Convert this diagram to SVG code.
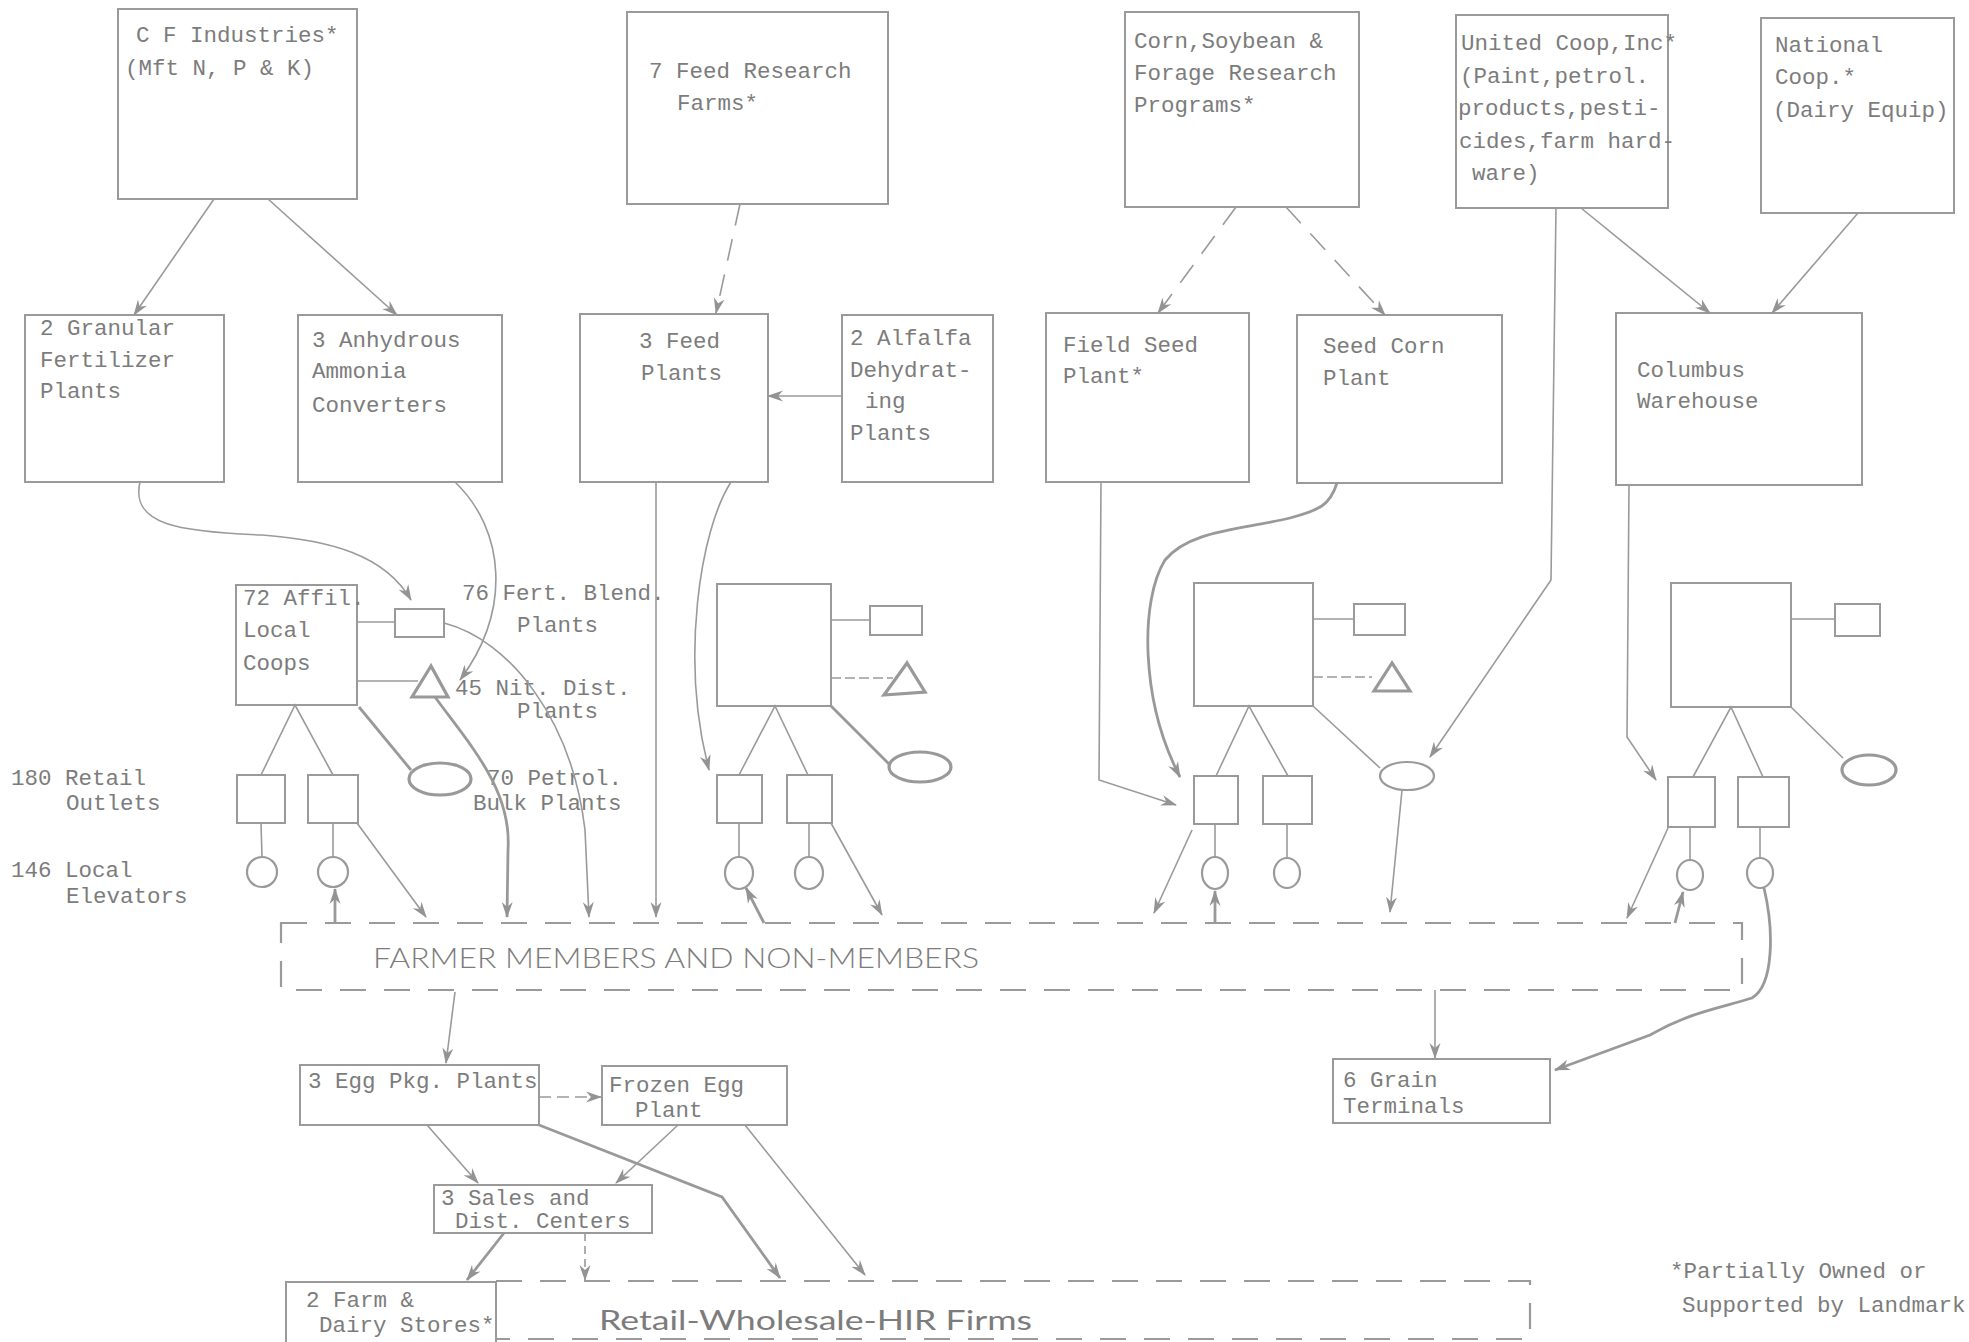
<svg xmlns="http://www.w3.org/2000/svg" width="1969" height="1342" viewBox="0 0 1969 1342">
<defs>
<style>
.bx{fill:none;stroke:#9a9a9a;stroke-width:2}
.ln{fill:none;stroke:#9a9a9a;stroke-width:1.6}
.tk{fill:none;stroke:#999;stroke-width:2.8}
.ds{fill:none;stroke:#9a9a9a;stroke-width:1.6;stroke-dasharray:22 14}
.bd{fill:none;stroke:#9a9a9a;stroke-width:2.2;stroke-dasharray:26 18}
.t{font-family:"Liberation Mono",monospace;font-size:22.5px;fill:#7c7c7c}
.big{font-family:Lato,"Liberation Sans",sans-serif;font-weight:300;font-size:27px;fill:#7c7c7c}
.sh{fill:none;stroke:#9a9a9a;stroke-width:2.2}
.sht{fill:none;stroke:#999;stroke-width:3.2}
</style>
<marker id="a" viewBox="0 0 16 12" refX="15" refY="6" markerWidth="16" markerHeight="12" orient="auto" markerUnits="userSpaceOnUse">
<path d="M0,0.5 L16,6 L0,11.5 L5,6 Z" fill="#939393"/>
</marker>
</defs>
<rect width="1969" height="1342" fill="#fff"/>

<g id="cf-industries"><rect class="bx" x="118" y="9" width="239" height="190"/>
<text class="t" x="136" y="42">C F Industries*</text><text class="t" x="125" y="75">(Mft N, P &amp; K)</text></g>
<g id="feed-research"><rect class="bx" x="627" y="12" width="261" height="192"/>
<text class="t" x="649" y="78">7 Feed Research</text><text class="t" x="677" y="110">Farms*</text></g>
<g id="corn-soybean"><rect class="bx" x="1125" y="12" width="234" height="195"/>
<text class="t" x="1134" y="48">Corn,Soybean &amp;</text><text class="t" x="1134" y="80">Forage Research</text><text class="t" x="1134" y="112">Programs*</text></g>
<g id="united-coop"><rect class="bx" x="1456" y="15" width="212" height="193"/>
<text class="t" x="1461" y="50">United Coop,Inc*</text><text class="t" x="1460" y="83">(Paint,petrol.</text><text class="t" x="1458" y="115">products,pesti-</text><text class="t" x="1459" y="148">cides,farm hard-</text><text class="t" x="1472" y="180">ware)</text></g>
<g id="national-coop"><rect class="bx" x="1761" y="18" width="193" height="195"/>
<text class="t" x="1775" y="52">National</text><text class="t" x="1775" y="84">Coop.*</text><text class="t" x="1773" y="117">(Dairy Equip)</text></g>

<g id="granular"><rect class="bx" x="25" y="315" width="199" height="167"/>
<text class="t" x="40" y="335">2 Granular</text><text class="t" x="40" y="367">Fertilizer</text><text class="t" x="40" y="398">Plants</text></g>
<g id="anhydrous"><rect class="bx" x="298" y="315" width="204" height="167"/>
<text class="t" x="312" y="347">3 Anhydrous</text><text class="t" x="312" y="378">Ammonia</text><text class="t" x="312" y="412">Converters</text></g>
<g id="feed-plants"><rect class="bx" x="580" y="314" width="188" height="168"/>
<text class="t" x="639" y="348">3 Feed</text><text class="t" x="641" y="380">Plants</text></g>
<g id="alfalfa"><rect class="bx" x="842" y="315" width="151" height="167"/>
<text class="t" x="850" y="345">2 Alfalfa</text><text class="t" x="850" y="377">Dehydrat-</text><text class="t" x="865" y="408">ing</text><text class="t" x="850" y="440">Plants</text></g>
<g id="field-seed"><rect class="bx" x="1046" y="313" width="203" height="169"/>
<text class="t" x="1063" y="352">Field Seed</text><text class="t" x="1063" y="383">Plant*</text></g>
<g id="seed-corn"><rect class="bx" x="1297" y="315" width="205" height="168"/>
<text class="t" x="1323" y="353">Seed Corn</text><text class="t" x="1323" y="385">Plant</text></g>
<g id="columbus"><rect class="bx" x="1616" y="313" width="246" height="172"/>
<text class="t" x="1637" y="377">Columbus</text><text class="t" x="1637" y="408">Warehouse</text></g>

<g id="local-coops-1"><rect class="bx" x="236" y="585" width="121" height="120"/>
<text class="t" x="243" y="605">72 Affil.</text><text class="t" x="243" y="637">Local</text><text class="t" x="243" y="670">Coops</text>
<line class="ln" x1="357" y1="622" x2="395" y2="622"/><rect class="bx" x="395" y="609" width="49" height="28"/>
<line class="ln" x1="357" y1="681" x2="418" y2="681"/><path class="sht" d="M431,666 L412,697 L448,697 Z"/>
<line class="tk" x1="359" y1="707" x2="411" y2="770"/><ellipse class="sht" cx="440" cy="779" rx="31" ry="16"/>
<path class="ln" d="M261,775 L295,705 L333,775"/>
<rect class="bx" x="237" y="775" width="48" height="48"/><rect class="bx" x="308" y="775" width="50" height="48"/>
<line class="ln" x1="261" y1="823" x2="262" y2="857"/><line class="ln" x1="333" y1="823" x2="333" y2="857"/>
<ellipse class="sh" cx="262" cy="872" rx="15" ry="15"/><ellipse class="sh" cx="333" cy="872" rx="15" ry="15"/></g>

<g id="local-coops-2"><rect class="bx" x="717" y="584" width="114" height="122"/>
<line class="ln" x1="831" y1="620" x2="870" y2="620"/><rect class="bx" x="870" y="606" width="52" height="29"/>
<line class="ln" x1="831" y1="678" x2="893" y2="678" stroke-dasharray="10 4"/><path class="sht" d="M907,663 L884,695 L925,692 Z"/>
<line class="tk" x1="831" y1="706" x2="890" y2="765"/><ellipse class="sht" cx="920" cy="767" rx="31" ry="15"/>
<path class="ln" d="M739,775 L775,706 L808,775"/>
<rect class="bx" x="717" y="775" width="45" height="48"/><rect class="bx" x="787" y="775" width="45" height="48"/>
<line class="ln" x1="739" y1="823" x2="739" y2="858"/><line class="ln" x1="809" y1="823" x2="809" y2="858"/>
<ellipse class="sh" cx="739" cy="873" rx="14" ry="16"/><ellipse class="sh" cx="809" cy="873" rx="14" ry="16"/></g>

<g id="local-coops-3"><rect class="bx" x="1194" y="583" width="119" height="123"/>
<line class="ln" x1="1313" y1="619" x2="1354" y2="619"/><rect class="bx" x="1354" y="604" width="51" height="31"/>
<line class="ln" x1="1313" y1="677" x2="1372" y2="677" stroke-dasharray="10 4"/><path class="sht" d="M1392,663 L1374,691 L1410,691 Z"/>
<line class="ln" x1="1313" y1="706" x2="1380" y2="768"/><ellipse class="sh" cx="1407" cy="776" rx="27" ry="14"/>
<path class="ln" d="M1216,776 L1249,706 L1288,776"/>
<rect class="bx" x="1194" y="776" width="44" height="48"/><rect class="bx" x="1263" y="776" width="49" height="48"/>
<line class="ln" x1="1215" y1="824" x2="1215" y2="858"/><line class="ln" x1="1287" y1="824" x2="1287" y2="858"/>
<ellipse class="sh" cx="1215" cy="873" rx="13" ry="16"/><ellipse class="sh" cx="1287" cy="873" rx="13" ry="15"/></g>

<g id="local-coops-4"><rect class="bx" x="1671" y="583" width="120" height="124"/>
<line class="ln" x1="1791" y1="619" x2="1835" y2="619"/><rect class="bx" x="1835" y="604" width="45" height="32"/>
<line class="ln" x1="1791" y1="707" x2="1843" y2="758"/><ellipse class="sht" cx="1869" cy="770" rx="27" ry="15"/>
<path class="ln" d="M1693,777 L1731,707 L1763,777"/>
<rect class="bx" x="1668" y="777" width="47" height="50"/><rect class="bx" x="1738" y="777" width="51" height="50"/>
<line class="ln" x1="1690" y1="827" x2="1690" y2="860"/><line class="ln" x1="1760" y1="827" x2="1760" y2="858"/>
<ellipse class="sh" cx="1690" cy="875" rx="13" ry="15"/><ellipse class="sh" cx="1760" cy="873" rx="13" ry="15"/></g>

<g id="labels">
<text class="t" x="462" y="600">76 Fert. Blend.</text><text class="t" x="517" y="632">Plants</text>
<text class="t" x="455" y="695">45 Nit. Dist.</text><text class="t" x="517" y="718">Plants</text>
<text class="t" x="487" y="785">70 Petrol.</text><text class="t" x="473" y="810">Bulk Plants</text>
<text class="t" x="11" y="785">180 Retail</text><text class="t" x="66" y="810">Outlets</text>
<text class="t" x="11" y="877">146 Local</text><text class="t" x="66" y="903">Elevators</text>
<text class="t" x="1670" y="1278">*Partially Owned or</text><text class="t" x="1682" y="1312">Supported by Landmark</text>
</g>

<g id="farmer-members"><rect class="bd" x="281" y="923" width="1461" height="67"/>
<text class="big" x="373" y="968" textLength="606" lengthAdjust="spacingAndGlyphs">FARMER MEMBERS AND NON-MEMBERS</text></g>

<g id="egg-pkg"><rect class="bx" x="300" y="1065" width="239" height="60"/><text class="t" x="308" y="1088">3 Egg Pkg. Plants</text></g>
<g id="frozen-egg"><rect class="bx" x="602" y="1066" width="185" height="59"/><text class="t" x="609" y="1092">Frozen Egg</text><text class="t" x="635" y="1117">Plant</text></g>
<g id="sales-dist"><rect class="bx" x="434" y="1185" width="218" height="48"/><text class="t" x="441" y="1205">3 Sales and</text><text class="t" x="455" y="1228">Dist. Centers</text></g>
<g id="farm-dairy"><rect class="bx" x="286" y="1282" width="210" height="70"/><text class="t" x="306" y="1307">2 Farm &amp;</text><text class="t" x="319" y="1332">Dairy Stores*</text></g>
<g id="grain-terminals"><rect class="bx" x="1333" y="1059" width="217" height="64"/><text class="t" x="1343" y="1087">6 Grain</text><text class="t" x="1343" y="1113">Terminals</text></g>
<g id="retail-wholesale"><path class="bd" d="M496,1281 L1530,1281 L1530,1339 L496,1339"/>
<text class="big" x="599" y="1330" textLength="433" lengthAdjust="spacingAndGlyphs" style="font-weight:400">Retail-Wholesale-HIR Firms</text></g>

<g id="connectors">
<line class="ln" x1="214" y1="199" x2="134" y2="315" marker-end="url(#a)"/>
<line class="ln" x1="268" y1="199" x2="397" y2="315" marker-end="url(#a)"/>
<line class="ds" x1="740" y1="204" x2="716" y2="313" marker-end="url(#a)"/>
<line class="ds" x1="1236" y1="207" x2="1158" y2="313" marker-end="url(#a)"/>
<line class="ds" x1="1286" y1="207" x2="1385" y2="315" marker-end="url(#a)"/>
<line class="ln" x1="1581" y1="208" x2="1710" y2="313" marker-end="url(#a)"/>
<line class="ln" x1="1858" y1="213" x2="1772" y2="313" marker-end="url(#a)"/>
<line class="ln" x1="842" y1="396" x2="768" y2="396" marker-end="url(#a)"/>
<path class="ln" d="M140,482 C130,525 180,532 262,535 C330,540 385,555 411,600" marker-end="url(#a)"/>
<path class="ln" d="M455,482 C505,530 512,610 460,680" marker-end="url(#a)"/>
<path class="tk" d="M435,697 C470,745 512,790 508,850 L507,917" marker-end="url(#a)"/>
<path class="ln" d="M444,623 C510,640 572,720 585,830 L589,917" marker-end="url(#a)"/>
<line class="ln" x1="357" y1="823" x2="426" y2="917" marker-end="url(#a)"/>
<line class="tk" x1="335" y1="923" x2="335" y2="889" marker-end="url(#a)"/>
<line class="ln" x1="656" y1="482" x2="656" y2="917" marker-end="url(#a)"/>
<path class="ln" d="M731,482 C700,530 680,660 709,770" marker-end="url(#a)"/>
<line class="tk" x1="764" y1="923" x2="746" y2="888" marker-end="url(#a)"/>
<line class="ln" x1="831" y1="823" x2="882" y2="915" marker-end="url(#a)"/>
<path class="ln" d="M1101,482 L1099,780 L1176,805" marker-end="url(#a)"/>
<path class="tk" d="M1337,483 C1330,505 1320,510 1290,518 C1240,530 1190,530 1165,560 C1140,600 1140,700 1180,777" marker-end="url(#a)"/>
<line class="ln" x1="1192" y1="830" x2="1154" y2="913" marker-end="url(#a)"/>
<line class="tk" x1="1215" y1="923" x2="1215" y2="891" marker-end="url(#a)"/>
<path class="ln" d="M1556,208 L1551,580 L1430,757" marker-end="url(#a)"/>
<line class="ln" x1="1402" y1="790" x2="1390" y2="912" marker-end="url(#a)"/>
<path class="ln" d="M1629,485 L1627,737 L1656,780" marker-end="url(#a)"/>
<line class="ln" x1="1668" y1="828" x2="1627" y2="918" marker-end="url(#a)"/>
<line class="tk" x1="1675" y1="923" x2="1683" y2="892" marker-end="url(#a)"/>
<path class="tk" d="M1764,888 C1774,930 1774,985 1752,998 C1720,1008 1690,1012 1650,1035 L1555,1070" marker-end="url(#a)"/>
<line class="ln" x1="1435" y1="990" x2="1435" y2="1058" marker-end="url(#a)"/>
<line class="ln" x1="455" y1="992" x2="446" y2="1063" marker-end="url(#a)"/>
<line class="ln" x1="539" y1="1097" x2="601" y2="1097" stroke-dasharray="12 6" marker-end="url(#a)"/>
<line class="ln" x1="427" y1="1125" x2="478" y2="1183" marker-end="url(#a)"/>
<line class="ln" x1="678" y1="1125" x2="616" y2="1183" marker-end="url(#a)"/>
<path class="tk" d="M539,1125 L722,1197 L780,1278" marker-end="url(#a)"/>
<line class="ln" x1="745" y1="1125" x2="865" y2="1275" marker-end="url(#a)"/>
<line class="tk" x1="504" y1="1233" x2="467" y2="1280" marker-end="url(#a)"/>
<line class="ln" x1="585" y1="1233" x2="585" y2="1280" stroke-dasharray="8 5" marker-end="url(#a)"/>
</g>
</svg>
